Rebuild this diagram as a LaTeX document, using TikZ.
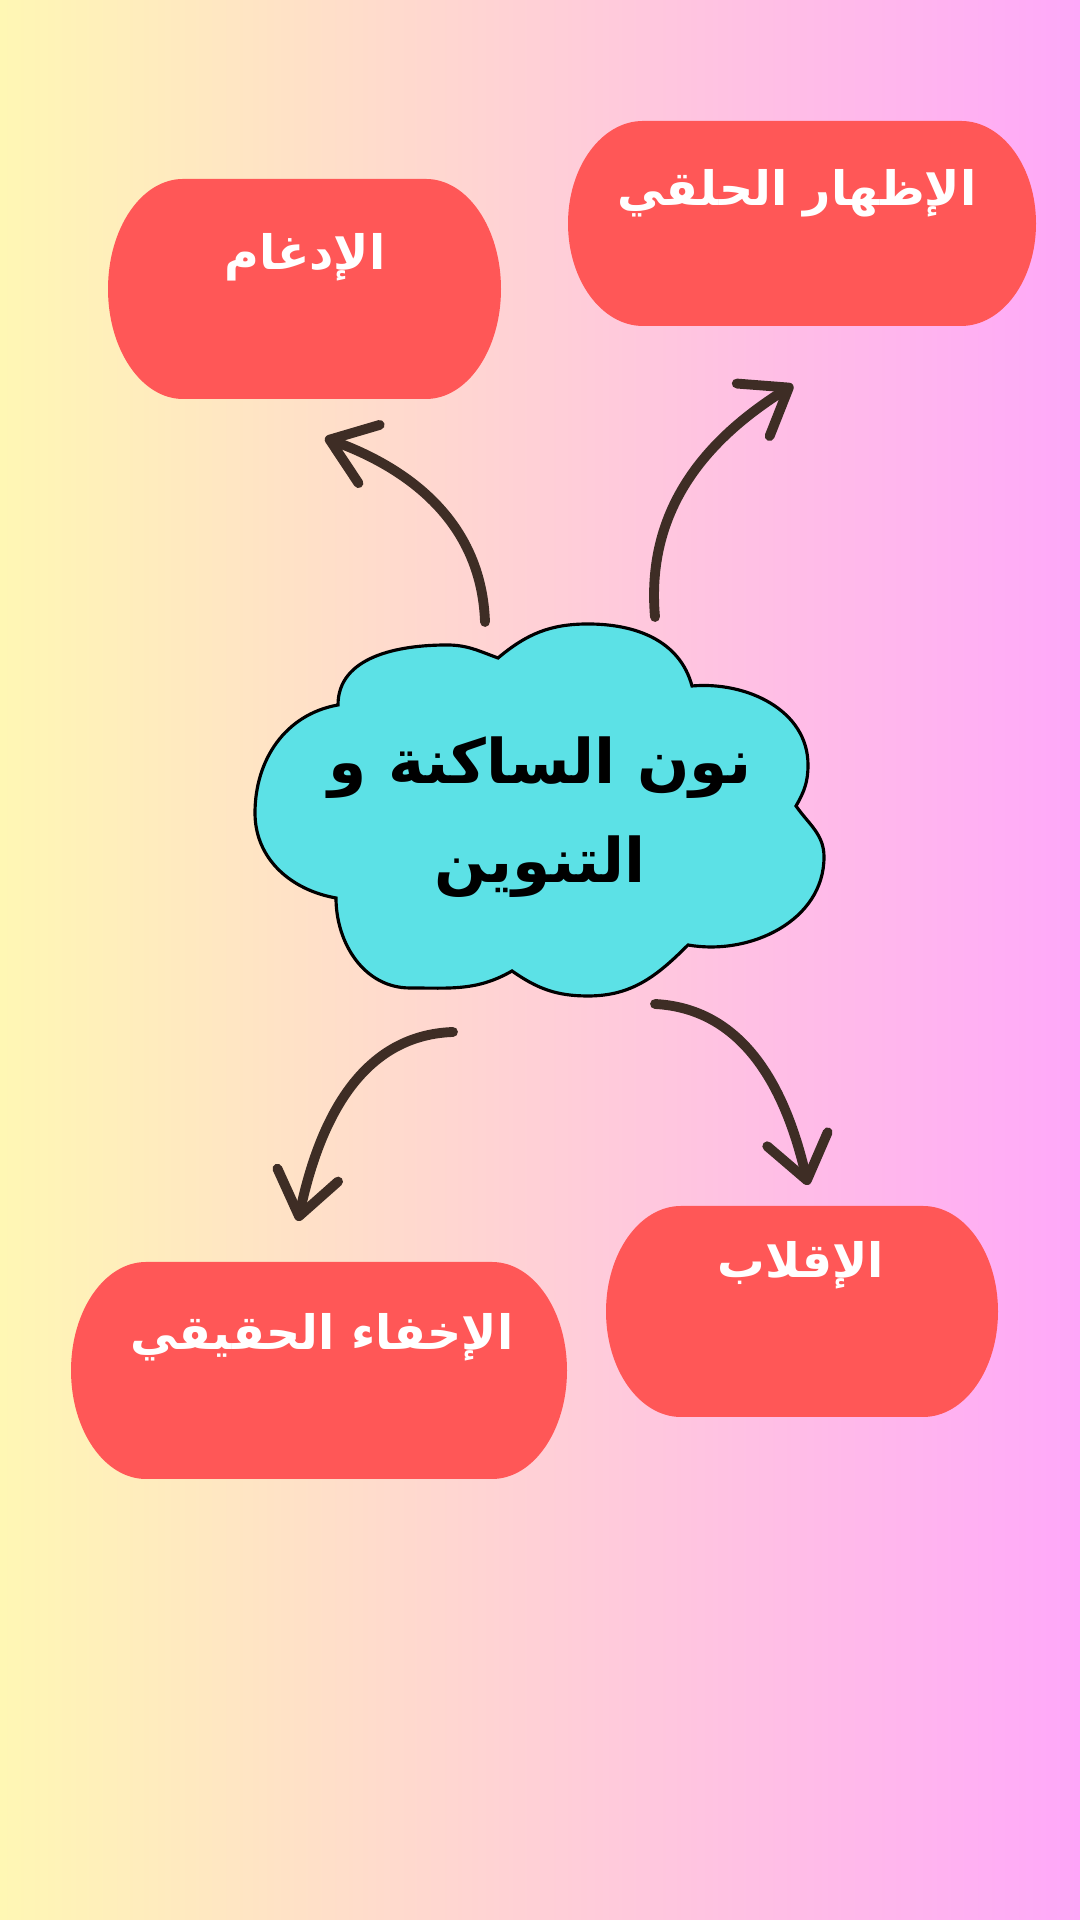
\documentclass[tikz,border=0pt]{standalone}
\usepackage{fontspec}
\usetikzlibrary{arrows.meta}
\TeXXeTstate=1
\newfontfamily\arabicfont[Script=Arabic]{DejaVu Sans}
\definecolor{bgleft}{RGB}{255,247,180}
\definecolor{bgright}{RGB}{255,168,249}
\definecolor{pillred}{RGB}{255,87,87}
\definecolor{cloudcyan}{RGB}{92,225,230}
\definecolor{arrowbrown}{RGB}{62,45,37}

\begin{document}
\begin{tikzpicture}[
  pill/.style 2 args={minimum width=#1,minimum height=#2,inner sep=0pt,
    path picture={\fill[pillred] ([xshift=.75cm]path picture bounding box.south west)
      -- ([xshift=-.75cm]path picture bounding box.south east)
      arc[start angle=-90,end angle=90,x radius=.75cm,y radius=#2/2]
      -- ([xshift=.75cm]path picture bounding box.north west)
      arc[start angle=90,end angle=270,x radius=.75cm,y radius=#2/2] -- cycle;}},
  pilltext/.style={text=white,font=\arabicfont\bfseries\fontsize{13.5}{16}\selectfont},
  cloudtext/.style={align=center,font=\arabicfont\bfseries\fontsize{17.5}{28}\selectfont},
  curvearrow/.style={draw=arrowbrown,line width=2.8pt,line cap=round,
    -{Straight Barb[length=4.2mm,width=6.2mm,round]}}]
			\shade[left color=bgleft,right color=bgright] (0,0) rectangle (10.8,19.2);

			\node[pill={3.93cm}{2.2cm}] (idgham) at (3.045,16.31) {};
			\node[pilltext] (idghamtxt) at (3.05,16.63) {\beginR الإدغام\endR};
			\node[pill={4.68cm}{2.05cm}] (izhar) at (8.02,16.965) {};
			\node[pilltext] (izhartxt) at (7.97,17.27) {\beginR الإظهار الحلقي\endR};
			\node[pill={4.96cm}{2.17cm}] (ikhfa) at (3.19,5.495) {};
			\node[pilltext] (ikhfatxt) at (3.22,5.83) {\beginR الإخفاء الحقيقي\endR};
			\node[pill={3.92cm}{2.11cm}] (iqlab) at (8.02,6.085) {};
			\node[pilltext] (iqlabtxt) at (8.01,6.55) {\beginR الإقلاب\endR};

			\draw[fill=cloudcyan,line width=.9pt] (4.98,12.62) to[out=40,in=180] (5.88,12.96) to[out=0,in=105] (6.92,12.34)
			  to[out=5,in=90] (8.08,11.55) to[out=-90,in=60] (7.96,11.14)
			  to[out=-55,in=90] (8.24,10.63) to[out=-90,in=-10] (6.88,9.75)
			  to[out=-135,in=0] (5.88,9.24) to[out=180,in=-35] (5.12,9.49)
			  to[out=-150,in=0] (4.10,9.32) to[out=180,in=-90] (3.36,10.22)
			  to[out=170,in=-90] (2.55,11.07) to[out=90,in=190] (3.38,12.15)
			  to[out=90,in=180] (4.47,12.75) to[out=0,in=160] cycle;
			\node[cloudtext] (nun) at (5.40,11.03) {\beginR نون الساكنة و\endR\\\beginR التنوين\endR};

			\coordinate (fromA) at (4.85,12.98); \coordinate (toA) at (3.25,14.82);
			\coordinate (fromB) at (6.55,13.03); \coordinate (toB) at (7.93,15.35);
			\coordinate (fromC) at (4.53,8.88); \coordinate (toC) at (2.98,6.99);
			\coordinate (fromD) at (6.55,9.16); \coordinate (toD) at (8.08,7.35);
			\draw[curvearrow] (fromA) to[out=92,in=-20] (toA);
			\draw[curvearrow] (fromB) to[out=95,in=212] (toB);
			\draw[curvearrow] (fromC) to[out=182,in=78] (toC);
			\draw[curvearrow] (fromD) to[out=-3,in=103] (toD);
\end{tikzpicture}
\end{document}
